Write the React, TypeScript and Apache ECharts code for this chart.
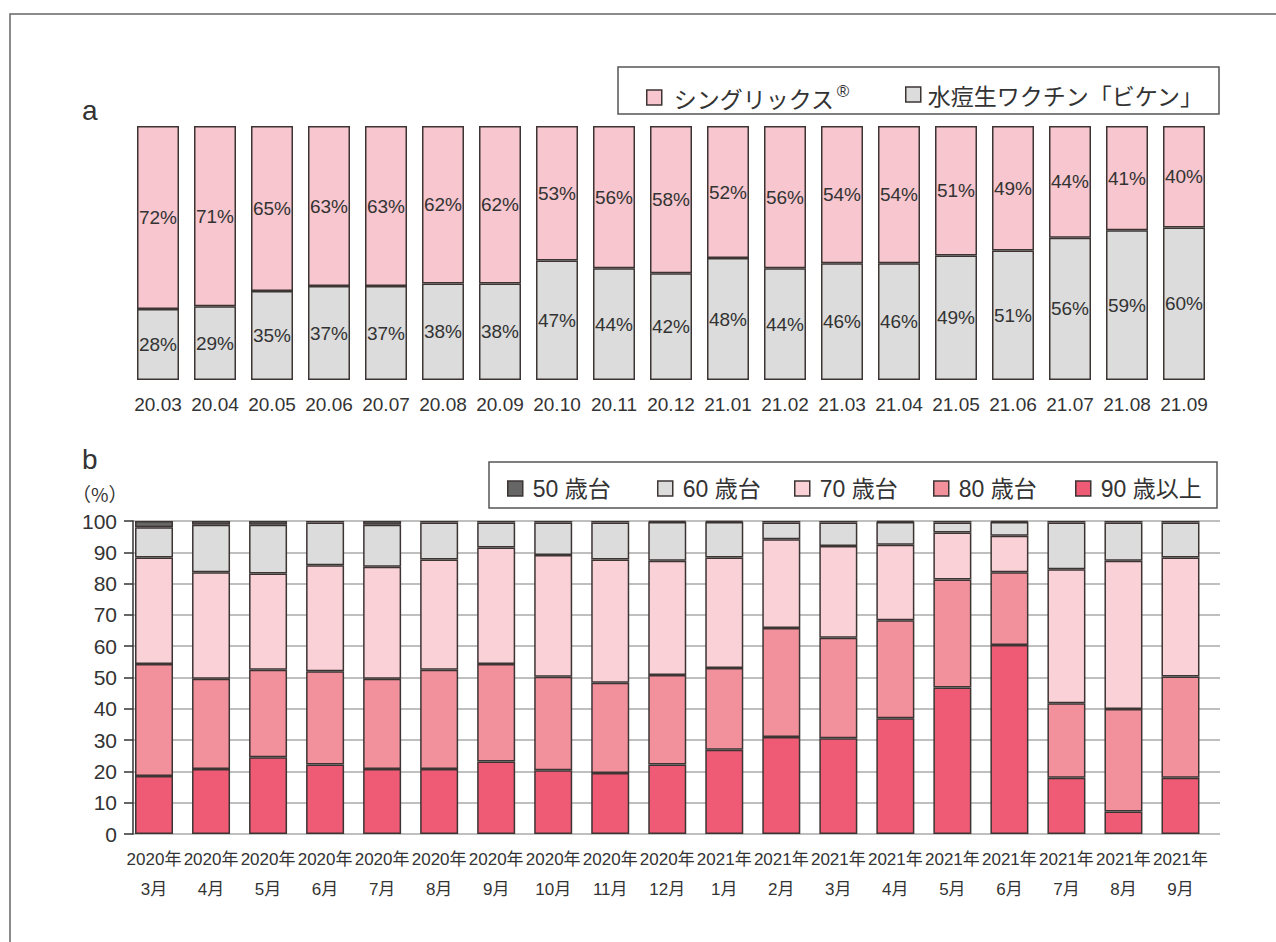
import React, { useEffect, useRef } from "react";
import * as echarts from "echarts";

const NARROW = "'Liberation Sans','Noto Sans CJK JP',sans-serif";
const CJK = "'Noto Sans CJK JP','Noto Sans',sans-serif";
const SANS = "'Liberation Sans','Noto Sans',sans-serif";

// Chart a
const catsA = ["20.03", "20.04", "20.05", "20.06", "20.07", "20.08", "20.09", "20.10", "20.11", "20.12", "21.01", "21.02", "21.03", "21.04", "21.05", "21.06", "21.07", "21.08", "21.09"];
const shingrix = [72, 71, 65, 63, 63, 62, 62, 53, 56, 58, 52, 56, 54, 54, 51, 49, 44, 41, 40];
const biken = [28, 29, 35, 37, 37, 38, 38, 47, 44, 42, 48, 44, 46, 46, 49, 51, 56, 59, 60];
const nameShingrix = "シングリックス®";
const nameBiken = "水痘生ワクチン「ビケン」";

// Chart b
const catsB = ["2020年\n3月", "2020年\n4月", "2020年\n5月", "2020年\n6月", "2020年\n7月", "2020年\n8月", "2020年\n9月", "2020年\n10月", "2020年\n11月", "2020年\n12月", "2021年\n1月", "2021年\n2月", "2021年\n3月", "2021年\n4月", "2021年\n5月", "2021年\n6月", "2021年\n7月", "2021年\n8月", "2021年\n9月"];
const age90 = [18.5, 20.8, 24.5, 22.2, 20.8, 20.8, 23.2, 20.4, 19.5, 22.2, 26.9, 31.0, 30.6, 37.0, 46.8, 60.4, 18.0, 7.2, 18.0];
const age80 = [35.8, 28.8, 28.0, 29.8, 28.8, 31.7, 31.1, 29.8, 28.8, 28.6, 26.1, 34.8, 32.1, 31.3, 34.5, 23.2, 23.8, 32.7, 32.3];
const age70 = [34.0, 34.0, 30.7, 33.9, 35.8, 35.2, 37.2, 38.9, 39.4, 36.5, 35.3, 28.4, 29.3, 24.1, 15.0, 11.7, 42.8, 47.4, 38.0];
const age60 = [9.7, 15.2, 15.6, 13.6, 13.4, 11.8, 8.0, 10.4, 11.8, 12.4, 11.4, 5.3, 7.5, 7.3, 3.2, 4.4, 14.9, 12.2, 11.2];
const age50 = [2.0, 1.2, 1.2, 0.5, 1.2, 0.5, 0.5, 0.5, 0.5, 0.3, 0.3, 0.5, 0.5, 0.3, 0.5, 0.3, 0.5, 0.5, 0.5];
const ageNames = ["50 歳台", "60 歳台", "70 歳台", "80 歳台", "90 歳以上"];
const yTicksB = { min: 0, max: 100, interval: 10 };

const BORDER = "#3d3434";
const colA = { shingrix: "#F7C6CE", biken: "#DCDCDC" };
const colB = { a50: "#666666", a60: "#DCDCDC", a70: "#F9D1D7", a80: "#F2919C", a90: "#EF5A74" };

export default function App() {
  const ref = useRef<HTMLDivElement>(null);
  useEffect(() => {
    if (!ref.current) return;
    const chart = echarts.init(ref.current, null, { renderer: "svg" });
    const barItem = (color: string) => ({ color, borderColor: BORDER, borderWidth: 1.5 });
    const legendBase = {
      icon: "rect",
      itemWidth: 15,
      itemHeight: 15,
      itemStyle: { borderColor: BORDER, borderWidth: 1.5 },
      selectedMode: false,
    };
    const legendB = (name: string, left: number) => ({
      ...legendBase,
      data: [name],
      left,
      top: 472,
      textStyle: { fontSize: 23, fontFamily: NARROW, color: "#333", padding: [0, 0, 0, 5] },
    });
    const seriesB = (name: string, data: number[], color: string) => ({
      name,
      type: "bar",
      stack: "b",
      xAxisIndex: 2,
      yAxisIndex: 2,
      barWidth: 38,
      data,
      itemStyle: barItem(color),
    });
    chart.setOption({
      animation: false,
      backgroundColor: "#ffffff",
      graphic: [
        { type: "rect", shape: { x: 10, y: 14, width: 1300, height: 1000 }, style: { fill: "none", stroke: "#666", lineWidth: 1.5 }, z: 0 },
        { type: "rect", shape: { x: 618, y: 67, width: 601, height: 47 }, style: { fill: "none", stroke: "#555", lineWidth: 1.5 }, z: 0 },
        { type: "rect", shape: { x: 489, y: 462, width: 728, height: 46 }, style: { fill: "none", stroke: "#555", lineWidth: 1.5 }, z: 0 },
        { type: "text", x: 82, y: 110, style: { text: "a", fontSize: 28, fontFamily: SANS, fill: "#333", verticalAlign: "middle" } },
        { type: "text", x: 82, y: 459, style: { text: "b", fontSize: 28, fontFamily: SANS, fill: "#333", verticalAlign: "middle" } },
        { type: "text", x: 72, y: 493, style: { text: "（%）", fontSize: 19, fontFamily: CJK, fill: "#333", verticalAlign: "middle" } },
      ],
      legend: [
        {
          ...legendBase,
          data: [nameShingrix],
          left: 641,
          top: 78,
          formatter: () => "{m|シングリックス}{s|®}",
          textStyle: {
            fontSize: 23, fontFamily: CJK, color: "#333", padding: [0, 0, 0, 7],
            rich: { m: { fontSize: 23, fontFamily: CJK, color: "#333" }, s: { fontSize: 17, fontFamily: SANS, color: "#333", padding: [0, 0, 12, 2] } },
          },
        },
        {
          ...legendBase,
          data: [nameBiken],
          left: 900,
          top: 78,
          textStyle: { fontSize: 23, fontFamily: CJK, color: "#333", padding: [0, 0, 0, 2] },
        },
        legendB(ageNames[0], 502),
        legendB(ageNames[1], 652),
        legendB(ageNames[2], 789),
        legendB(ageNames[3], 928),
        legendB(ageNames[4], 1070),
      ],
      grid: [
        { left: 129.5, top: 126, width: 1083, height: 254 },
        { left: 133, top: 521, width: 1087, height: 313 },
        { left: 125.5, top: 521, width: 1083.5, height: 313 },
      ],
      xAxis: [
        {
          gridIndex: 0, type: "category", data: catsA,
          axisLine: { show: false }, axisTick: { show: false },
          axisLabel: { margin: 15, fontSize: 19, fontFamily: NARROW, color: "#333", interval: 0 },
        },
        { gridIndex: 1, type: "value", min: 0, max: 1, show: false },
        {
          gridIndex: 2, type: "category", data: catsB,
          axisLine: { show: false }, axisTick: { show: false },
          axisLabel: { margin: 10, fontSize: 17, lineHeight: 30, fontFamily: NARROW, color: "#333", interval: 0 },
        },
      ],
      yAxis: [
        { gridIndex: 0, type: "value", min: 0, max: 100, show: false },
        {
          gridIndex: 1, type: "value", min: yTicksB.min, max: yTicksB.max, interval: yTicksB.interval,
          axisLine: { show: true, lineStyle: { color: "#333", width: 1.5 } },
          axisTick: { show: true, length: 9, lineStyle: { color: "#333", width: 1.5 } },
          axisLabel: { margin: 16, fontSize: 21, fontFamily: SANS, color: "#333" },
          splitLine: { show: true, lineStyle: { color: "#aaa", width: 1.5 } },
        },
        { gridIndex: 2, type: "value", min: 0, max: 100, show: false },
      ],
      series: [
        {
          name: nameBiken, type: "bar", stack: "a", xAxisIndex: 0, yAxisIndex: 0, barWidth: 42, data: biken,
          itemStyle: barItem(colA.biken),
          label: { show: true, position: "inside", formatter: "{c}%", fontSize: 19, fontFamily: NARROW, color: "#333" },
        },
        {
          name: nameShingrix, type: "bar", stack: "a", xAxisIndex: 0, yAxisIndex: 0, barWidth: 42, data: shingrix,
          itemStyle: barItem(colA.shingrix),
          label: { show: true, position: "inside", formatter: "{c}%", fontSize: 19, fontFamily: NARROW, color: "#333" },
        },
        seriesB(ageNames[4], age90, colB.a90),
        seriesB(ageNames[3], age80, colB.a80),
        seriesB(ageNames[2], age70, colB.a70),
        seriesB(ageNames[1], age60, colB.a60),
        seriesB(ageNames[0], age50, colB.a50),
      ],
    });
    return () => chart.dispose();
  }, []);
  return (
    <div
      ref={ref}
      style={{ position: "absolute", left: 0, top: 0, width: 1276, height: 942, background: "#fff" }}
    />
  );
}
